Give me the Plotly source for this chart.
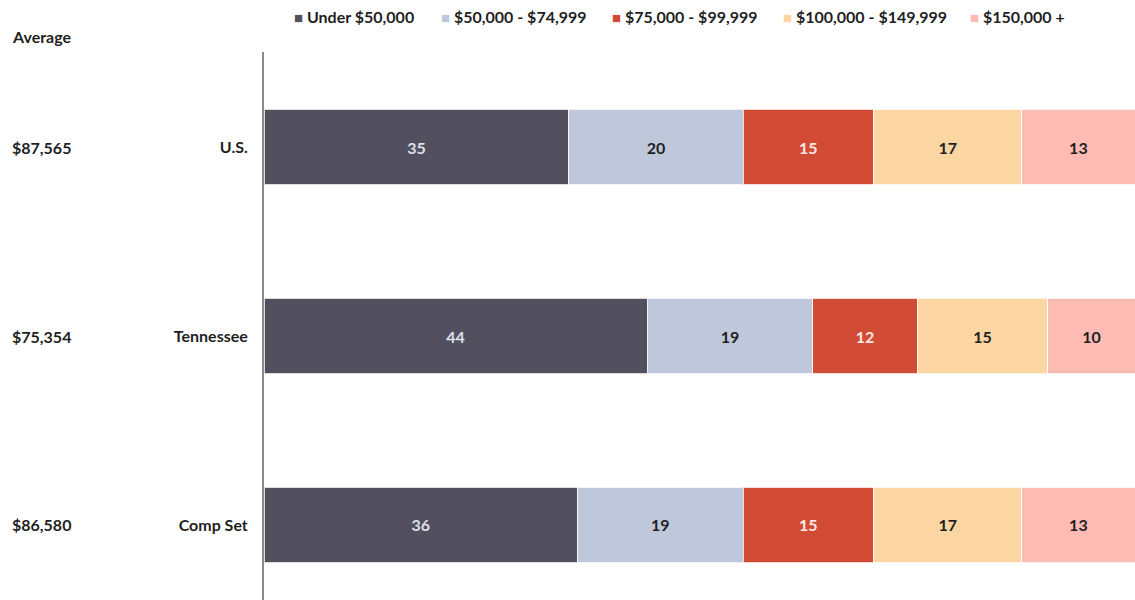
import plotly.graph_objects as go

categories = ["U.S.", "Tennessee", "Comp Set"]
averages = ["$87,565", "$75,354", "$86,580"]
series_names = ["Under $50,000", "$50,000 - $74,999", "$75,000 - $99,999", "$100,000 - $149,999", "$150,000 +"]
under_50k = [35, 44, 36]
k50_75 = [20, 19, 19]
k75_100 = [15, 12, 15]
k100_150 = [17, 15, 17]
k150_plus = [13, 10, 13]

series_values = [under_50k, k50_75, k75_100, k100_150, k150_plus]
colors = ["#52505E", "#BEC8DA", "#D24B34", "#FBD6A2", "#FDBBB3"]
text_colors = ["#DCE0EA", "#1F1F1F", "#FBE9E6", "#1F1F1F", "#1F1F1F"]

# left pixel position of each legend square (layout only)
legend_square_px = [295, 442, 613, 784, 971]

FONT = "Lato"
FS = 16
L, W = 264, 871
ypos = list(range(len(categories)))

fig = go.Figure()
for name, vals, c, tc in zip(series_names, series_values, colors, text_colors):
    fig.add_trace(go.Bar(
        y=ypos, x=vals, name=name, orientation="h", showlegend=False,
        marker=dict(color=c, line=dict(color="rgba(255,255,255,0.8)", width=1)),
        text=[str(v) for v in vals], textposition="inside", insidetextanchor="middle",
        textfont=dict(family=FONT, size=FS, color=tc, weight="bold"),
        width=0.4,
    ))

legend_layouts = {}
for i, (name, c, px) in enumerate(zip(series_names, colors, legend_square_px)):
    key = "legend" if i == 0 else f"legend{i + 1}"
    fig.add_trace(go.Scatter(
        x=[None], y=[None], mode="markers",
        marker=dict(color="rgba(0,0,0,0)", size=1, opacity=0),
        name=f"<span style='color:{c};font-size:15px'>■</span> {name}",
        showlegend=True, hoverinfo="skip", legend=key,
    ))
    legend_layouts[key] = dict(
        orientation="h", x=(px - 41 - L) / W, xanchor="left", y=1.0 + 52 / 548, yanchor="top",
        font=dict(family=FONT, size=FS, color="#1F1F1F", weight="bold"),
        itemwidth=30, bgcolor="rgba(0,0,0,0)",
    )

for y, a in zip(ypos, averages):
    fig.add_annotation(x=(10 - L) / W, xref="paper", y=y, yref="y", text=a, showarrow=False,
                       xanchor="left", yanchor="middle",
                       font=dict(family=FONT, size=FS, color="#1F1F1F", weight="bold"))
fig.add_annotation(x=(10 - L) / W, xref="paper", y=1.0 + (52 - 37) / 548, yref="paper", text="Average",
                   showarrow=False, xanchor="left", yanchor="middle",
                   font=dict(family=FONT, size=FS, color="#1F1F1F", weight="bold"))

fig.update_layout(
    width=1135, height=600,
    barmode="stack",
    margin=dict(l=L, r=0, t=52, b=0),
    paper_bgcolor="white", plot_bgcolor="white",
    font=dict(family=FONT, size=FS, color="#1F1F1F"),
    xaxis=dict(range=[0, 100], showgrid=False, zeroline=False, showticklabels=False, showline=False),
    yaxis=dict(range=[2.397, -0.503], tickvals=ypos, ticktext=categories, showgrid=False, zeroline=False,
               showline=True, linecolor="#8A8A8A", linewidth=2,
               ticks="outside", ticklen=11, tickcolor="rgba(0,0,0,0)",
               tickfont=dict(family=FONT, size=FS, color="#1F1F1F", weight="bold")),
    showlegend=True,
    **legend_layouts,
)

fig.write_html("out.html", config={"displayModeBar": False},
               post_script="document.body.style.margin='0';")
